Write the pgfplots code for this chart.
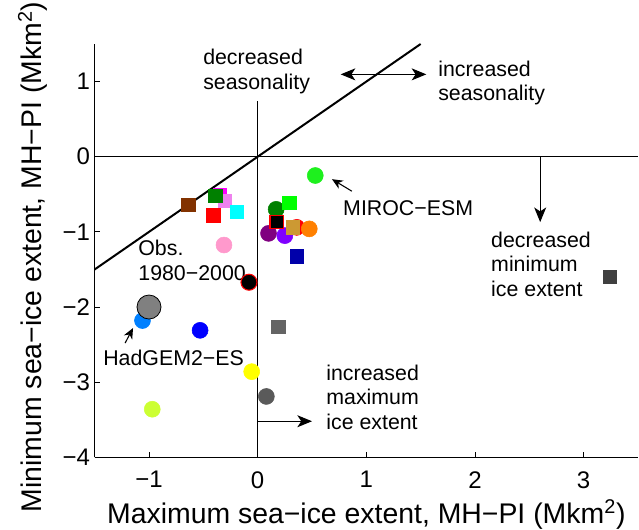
\documentclass[border=0pt]{standalone}
\usepackage{fontspec}
\setmainfont{Liberation Sans}
\usepackage{pgfplots}
\pgfplotsset{compat=1.18}
\usetikzlibrary{arrows.meta}
\definecolor{cbrown}{RGB}{130,50,0}
\definecolor{cmagenta}{RGB}{255,0,255}
\definecolor{cgreen}{RGB}{0,128,0}
\definecolor{corchid}{RGB}{238,130,238}
\definecolor{ccyan}{RGB}{0,255,255}
\definecolor{cred}{RGB}{255,0,0}
\definecolor{clime}{RGB}{0,255,0}
\definecolor{ctan}{RGB}{204,153,51}
\definecolor{cdblue}{RGB}{0,0,170}
\definecolor{cgray}{RGB}{100,100,100}
\definecolor{cdgray}{RGB}{64,64,64}
\definecolor{cmiroc}{RGB}{30,240,30}
\definecolor{corange}{RGB}{255,128,0}
\definecolor{cpurple}{RGB}{128,0,128}
\definecolor{cviolet}{RGB}{128,0,255}
\definecolor{cpink}{RGB}{255,153,204}
\definecolor{cdodger}{RGB}{0,128,255}
\definecolor{cblue}{RGB}{0,0,255}
\definecolor{cyellow}{RGB}{255,255,0}
\definecolor{cdgrayc}{RGB}{90,90,90}
\definecolor{cyg}{RGB}{204,255,51}
\definecolor{cobs}{RGB}{128,128,128}
\tikzset{
  circ/.style={only marks, mark=*, mark size=6pt, color=#1, mark options={fill=#1, draw=#1}},
  sq/.style={only marks, mark=square*, mark size=5pt, color=#1, mark options={fill=#1, draw=#1}},
  bigarrow/.style={-{Stealth[length=11pt,width=9pt,inset=3pt]}},
  smallarrow/.style={-{Stealth[length=8pt,width=7pt,inset=2.5pt]}},
}
\begin{document}
\begin{tikzpicture}
\useasboundingbox (0,0) rectangle (479.25pt,397.5pt);
\begin{axis}[
  at={(71.0pt,54.5pt)}, anchor=south west,
  scale only axis, width=407.5pt, height=310pt,
  xmin=-1.5, xmax=3.5, ymin=-4, ymax=1.5,
  axis lines*=left,
  axis line style={line width=0.8pt},
  xtick={-1,0,1,2,3}, xticklabels={−1,0,1,2,3},
  ytick={-4,-3,-2,-1,0,1}, yticklabels={−4,−3,−2,−1,0,1},
  tick align=inside, major tick length=3.75pt,
  tick style={black, line width=0.6pt},
  ticklabel style={font=\fontsize{18}{20}\selectfont},
  xticklabel style={yshift=-7pt},
  xlabel={Maximum sea−ice extent, MH−PI (Mkm\textsuperscript{2})},
  ylabel={Minimum sea−ice extent, MH−PI (Mkm\textsuperscript{2})},
  label style={font=\fontsize{21.3}{24}\selectfont},
  xlabel style={at={(axis description cs:0.5,0)}, anchor=base, yshift=-50pt},
  ylabel style={at={([xshift=-39.5pt]axis description cs:0,0.485)}, anchor=base},
  clip=false,
]
% reference lines
\addplot[black, line width=1.5pt] coordinates {(-1.5,-1.5) (1.5,1.5)};
\addplot[black, line width=1.1pt] coordinates {(-1.5,0) (3.5,0)};
\addplot[black, line width=0.8pt] coordinates {(0,-4) (0,0.74)};
\addplot[black, line width=0.8pt, bigarrow] coordinates {(2.6,0) (2.6,-0.87)};
\addplot[black, line width=0.8pt, {Stealth[length=11pt,width=9pt,inset=3pt]}-{Stealth[length=11pt,width=9pt,inset=3pt]}] coordinates {(0.764,1.096) (1.552,1.096)};
\addplot[black, line width=0.8pt, bigarrow] coordinates {(0,-3.52) (0.5,-3.52)};
\addplot[black, line width=0.8pt, smallarrow] coordinates {(0.867,-0.459) (0.684,-0.299)};
\addplot[black, line width=0.8pt, smallarrow] coordinates {(-1.22,-2.48) (-1.147,-2.28)};
% circles
\addplot[circ=cmiroc] coordinates {(0.53,-0.25)};
\addplot[circ=cgreen] coordinates {(0.17,-0.70)};
\addplot[circ=cpurple] coordinates {(0.10,-1.02)};
\addplot[circ=cviolet] coordinates {(0.25,-1.05)};
\addplot[circ=cred] coordinates {(0.36,-0.94)};
\addplot[circ=corange] coordinates {(0.475,-0.96)};
\addplot[circ=cpink] coordinates {(-0.31,-1.175)};
\addplot[only marks, mark=*, mark size=6pt, mark options={fill=black, draw=red, line width=0.8pt}] coordinates {(-0.08,-1.67)};
\addplot[circ=cdodger] coordinates {(-1.06,-2.18)};
\addplot[circ=cblue] coordinates {(-0.53,-2.31)};
\addplot[circ=cyellow] coordinates {(-0.055,-2.86)};
\addplot[circ=cdgrayc] coordinates {(0.08,-3.19)};
\addplot[circ=cyg] coordinates {(-0.97,-3.36)};
\addplot[only marks, mark=*, mark size=9pt, mark options={fill=cobs, draw=black, line width=0.6pt}] coordinates {(-1.00,-2.00)};
% squares
\addplot[sq=cbrown] coordinates {(-0.64,-0.64)};
\addplot[sq=cmagenta] coordinates {(-0.35,-0.51)};
\addplot[sq=corchid] coordinates {(-0.30,-0.585)};
\addplot[sq=cgreen] coordinates {(-0.39,-0.52)};
\addplot[sq=ccyan] coordinates {(-0.19,-0.73)};
\addplot[sq=cred] coordinates {(-0.41,-0.78)};
\addplot[sq=clime] coordinates {(0.29,-0.61)};
\addplot[only marks, mark=square*, mark size=5pt, mark options={fill=black, draw=red, line width=0.8pt}] coordinates {(0.175,-0.865)};
\addplot[sq=ctan] coordinates {(0.32,-0.94)};
\addplot[sq=cdblue] coordinates {(0.36,-1.325)};
\addplot[sq=cgray] coordinates {(0.19,-2.26)};
\addplot[sq=cdgray] coordinates {(3.24,-1.60)};
% annotations
\tikzset{ann/.style={anchor=west, align=left, inner sep=0pt, font=\fontsize{16}{18.5}\selectfont}}
\node[ann] at (axis cs:-0.503,1.13) {decreased\\seasonality};
\node[ann] at (axis cs:1.66,0.98) {increased\\seasonality};
\node[ann] at (axis cs:2.147,-1.43) {decreased\\minimum\\ice extent};
\node[ann] at (axis cs:0.63,-3.20) {increased\\maximum\\ice extent};
\node[ann] at (axis cs:0.785,-0.685) {MIROC−ESM};
\node[ann] at (axis cs:-1.10,-1.38) {Obs.\\1980−2000};
\node[ann] at (axis cs:-1.423,-2.68) {HadGEM2−ES};
\end{axis}
\end{tikzpicture}
\end{document}
